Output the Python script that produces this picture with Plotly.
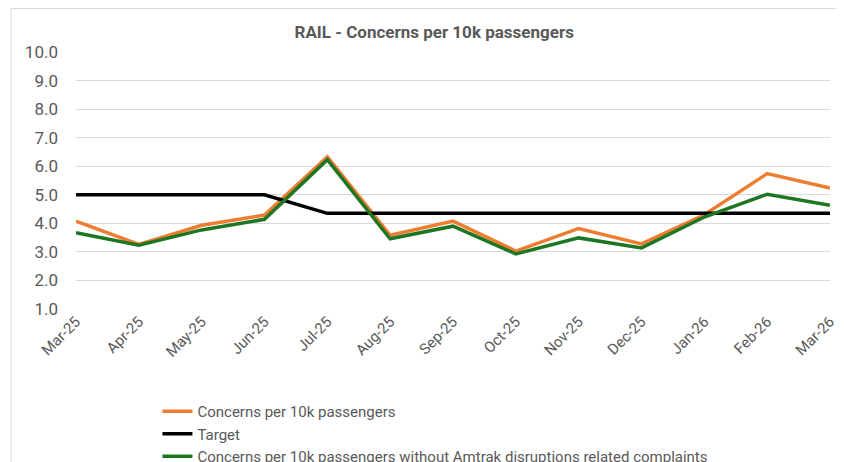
import plotly.graph_objects as go

months = ["Mar-25", "Apr-25", "May-25", "Jun-25", "Jul-25", "Aug-25", "Sep-25",
          "Oct-25", "Nov-25", "Dec-25", "Jan-26", "Feb-26", "Mar-26"]
concerns = [4.08, 3.26, 3.93, 4.29, 6.33, 3.58, 4.08, 3.03, 3.82, 3.28, 4.3, 5.74, 5.24]
target = [5.0, 5.0, 5.0, 5.0, 4.35, 4.35, 4.35, 4.35, 4.35, 4.35, 4.35, 4.35, 4.35]
concerns_no_amtrak = [3.67, 3.23, 3.77, 4.14, 6.23, 3.46, 3.9, 2.93, 3.49, 3.14, 4.22, 5.02, 4.63]

fig = go.Figure()

fig.add_trace(go.Scatter(
    x=months, y=concerns, name="Concerns per 10k passengers",
    mode="lines", line=dict(color="#ED7D31", width=3.5)
))
fig.add_trace(go.Scatter(
    x=months, y=target, name="Target",
    mode="lines", line=dict(color="#000000", width=3.5)
))
fig.add_trace(go.Scatter(
    x=months, y=concerns_no_amtrak,
    name="Concerns per 10k passengers without Amtrak disruptions related complaints",
    mode="lines", line=dict(color="#1E7623", width=3.5)
))

grey = "#595959"

# page body has an 8px margin, so the figure is laid out 8px up/left of the target positions
fig.update_layout(
    width=844, height=462,
    paper_bgcolor="white", plot_bgcolor="white",
    margin=dict(l=68, r=22, t=44, b=161, autoexpand=False),
    font=dict(family="Liberation Sans Narrow, Arial Narrow, Roboto, sans-serif", color=grey),
    title=dict(
        text="<b>RAIL - Concerns per 10k passengers</b>",
        x=0.505, xref="container", y=0.948, yref="container",
        xanchor="center", yanchor="middle",
        font=dict(size=17, color=grey)
    ),
    xaxis=dict(
        type="category", automargin=False,
        tickangle=-45, showgrid=False, showline=False, zeroline=False,
        tickfont=dict(size=15, color=grey), range=[0, 12], ticks=""
    ),
    yaxis=dict(
        automargin=False,
        range=[1, 10], dtick=1, tickformat=".1f",
        gridcolor="#D9D9D9", gridwidth=1, zeroline=False, showline=False,
        tickfont=dict(size=17, color=grey), ticks="", ticklabelstandoff=17
    ),
    showlegend=True,
    legend=dict(
        x=0.108, xanchor="left", y=-0.335, yanchor="top",
        orientation="v", itemwidth=30, tracegroupgap=0,
        font=dict(size=15, color=grey), bgcolor="rgba(0,0,0,0)"
    ),
    shapes=[
        dict(type="line", xref="paper", yref="paper", x0=-0.086, x1=1.2, y0=1.169, y1=1.169,
             line=dict(color="#D9D9D9", width=1)),
        dict(type="line", xref="paper", yref="paper", x0=-0.086, x1=-0.086, y0=1.169, y1=-0.7,
             line=dict(color="#D9D9D9", width=1)),
    ],
)

fig.write_html("out.html")
